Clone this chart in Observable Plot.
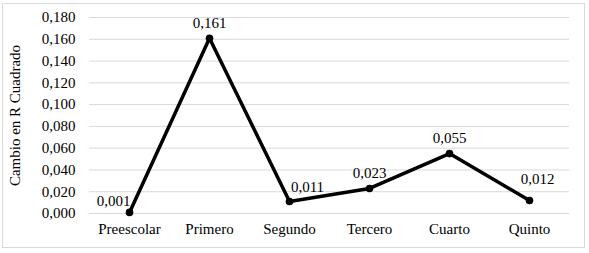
<!DOCTYPE html>
<html>
<head>
<meta charset="utf-8">
<script src="https://cdn.jsdelivr.net/npm/d3@7"></script>
<script src="https://cdn.jsdelivr.net/npm/@observablehq/plot@0.6"></script>
<style>
  html, body { margin: 0; padding: 0; background: #fff; }
  #chart { position: relative; width: 589px; height: 253px; }
</style>
</head>
<body>
<div id="chart"></div>
<script>
const grades = ["Preescolar", "Primero", "Segundo", "Tercero", "Cuarto", "Quinto"];
const rSquaredChange = [0.001, 0.161, 0.011, 0.023, 0.055, 0.012];
const yTicks = [0, 0.02, 0.04, 0.06, 0.08, 0.10, 0.12, 0.14, 0.16, 0.18];

const data = grades.map((g, i) => ({grade: g, value: rSquaredChange[i]}));
const fmt = d3.formatLocale({decimal: ",", thousands: "."}).format(".3f");
const font = "'Liberation Serif', 'Times New Roman', serif";

const labelAbove = d => d.grade !== "Preescolar" && d.grade !== "Segundo" && d.grade !== "Quinto";

const plot = Plot.plot({
  width: 589,
  height: 253,
  marginLeft: 89,
  marginRight: 20,
  marginTop: 17,
  marginBottom: 40,
  style: {fontFamily: font, fontSize: "15px", color: "#000", background: "#fff"},
  x: {type: "point", domain: grades, padding: 0.5},
  y: {domain: [0, 0.18]},
  marks: [
    Plot.gridY(yTicks, {stroke: "#d9d9d9", strokeOpacity: 1, strokeWidth: 1}),
    Plot.axisY(yTicks, {tickFormat: fmt, tickSize: 0, tickPadding: 14, fontSize: 15,
      label: "Cambio en R Cuadrado", labelAnchor: "center", labelArrow: "none", labelOffset: 80}),
    Plot.axisX({tickSize: 0, tickPadding: 10, fontSize: 15, label: null}),
    Plot.line(data, {x: "grade", y: "value", stroke: "#000", strokeWidth: 3.5, strokeLinejoin: "round"}),
    Plot.dot(data, {x: "grade", y: "value", r: 3.8, fill: "#000"}),
    Plot.text(data.filter(labelAbove), {x: "grade", y: "value", text: d => fmt(d.value), dy: -15, fontSize: 15}),
    Plot.text(data.filter(d => d.grade === "Preescolar"), {x: "grade", y: "value", text: d => fmt(d.value), dx: -16, dy: -11, fontSize: 15}),
    Plot.text(data.filter(d => d.grade === "Segundo"), {x: "grade", y: "value", text: d => fmt(d.value), dx: 18, dy: -14, fontSize: 15}),
    Plot.text(data.filter(d => d.grade === "Quinto"), {x: "grade", y: "value", text: d => fmt(d.value), dx: 8, dy: -21, fontSize: 15})
  ]
});

d3.select(plot).append("rect")
  .attr("x", 2.5).attr("y", 3.5).attr("width", 582).attr("height", 244)
  .attr("fill", "none").attr("stroke", "#d9d9d9");

document.getElementById("chart").appendChild(plot);
</script>
</body>
</html>
